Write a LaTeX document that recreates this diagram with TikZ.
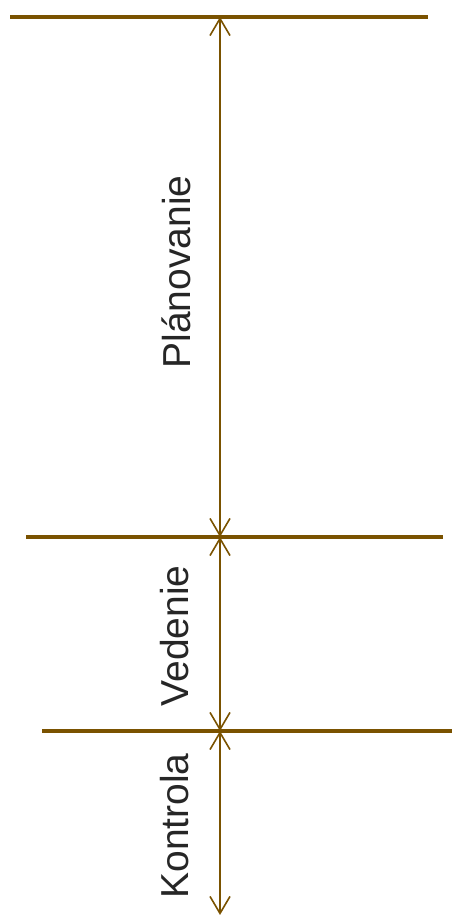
\documentclass[tikz,border=0pt]{standalone}
\usepackage{fontspec}
\setmainfont{Liberation Sans}
\usetikzlibrary{arrows.meta}
\definecolor{rulec}{HTML}{7A5200}
\tikzset{
  bound/.style={draw=rulec, line width=3.4pt},
  span/.style={draw=rulec, line width=2pt,
               {Straight Barb[length=17pt,width=20pt,line width=1.6pt]}-{Straight Barb[length=17pt,width=20pt,line width=1.6pt]}},
  phase/.style={rotate=90, anchor=base, inner sep=0pt, text=black!85,
                font=\fontsize{39}{39}\selectfont},
}
\begin{document}
\begin{tikzpicture}[x=1pt, y=1pt]
\useasboundingbox (0,0) rectangle (452,921);

% boundaries between the phases
\draw[bound] (10,904) -- (428,904);
\draw[bound] (26,384) -- (443,384);
\draw[bound] (42,190) -- (452,190);
\coordinate (b0) at (220,904);
\coordinate (b1) at (220,384);
\coordinate (b2) at (220,190);
\coordinate (b3) at (220,6);

% the phases
\draw[span] (b0) -- (b1);
\draw[span] (b1) -- (b2);
\draw[span] (b2) -- (b3);
\node[phase] (plan) at (190,649) {Plánovanie};
\node[phase] (lead) at (188,285) {Vedenie};
\node[phase] (ctrl) at (188,95) {Kontrola};
\end{tikzpicture}
\end{document}
